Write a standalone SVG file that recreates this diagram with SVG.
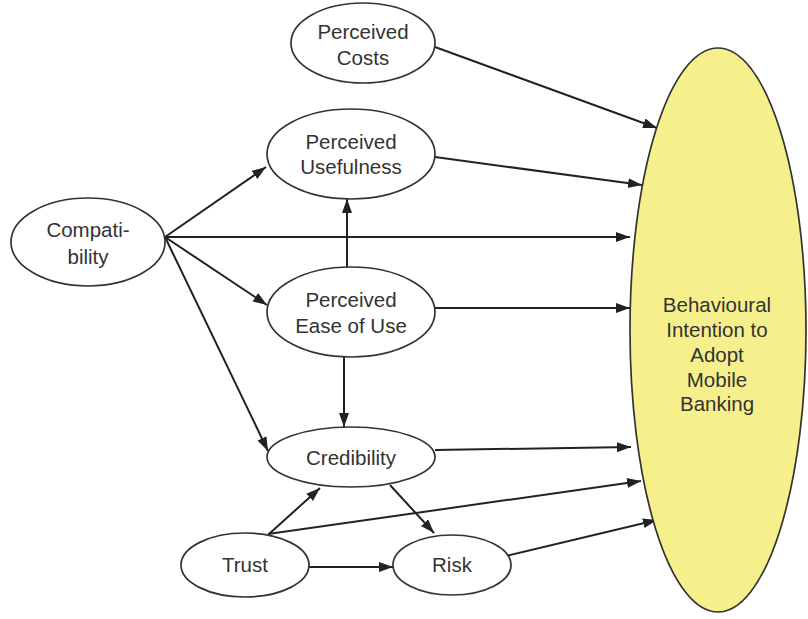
<svg xmlns="http://www.w3.org/2000/svg" width="808" height="619" viewBox="0 0 808 619">
<style>
.n{fill:#fff;stroke:#333;stroke-width:1.7}
.b{fill:#f6f08c;stroke:#333;stroke-width:1.7}
text{font-family:"Liberation Sans",Arial,sans-serif;font-size:20.5px;fill:#333;text-anchor:middle}
.c line{stroke:#222;stroke-width:2;marker-end:url(#ah)}
</style>
<defs>
<marker id="ah" markerUnits="userSpaceOnUse" markerWidth="15" markerHeight="11" refX="14" refY="5" orient="auto">
<path d="M0,0 L14,5 L0,10 z" fill="#222"/>
</marker>
</defs>
<rect width="808" height="619" fill="#fff"/>
<g id="connectors" class="c">
<line x1="435" y1="47" x2="657" y2="128"/>
<line x1="435" y1="157" x2="642" y2="185"/>
<line x1="165" y1="237" x2="630" y2="237"/>
<line x1="435" y1="308" x2="630" y2="308"/>
<line x1="435" y1="450" x2="631" y2="447"/>
<line x1="268" y1="534" x2="641" y2="481"/>
<line x1="506" y1="556" x2="657" y2="520"/>
<line x1="165" y1="237" x2="266" y2="167"/>
<line x1="165" y1="237" x2="267" y2="305"/>
<line x1="165" y1="237" x2="268" y2="451"/>
<line x1="347" y1="268" x2="347" y2="199"/>
<line x1="344" y1="357" x2="344" y2="427"/>
<line x1="269" y1="534" x2="320" y2="488"/>
<line x1="390" y1="485" x2="434" y2="533"/>
<line x1="309" y1="567" x2="393" y2="567"/>
</g>
<g id="perceived-costs">
<ellipse class="n" cx="363" cy="43" rx="72" ry="40"/>
<text x="363" y="39">Perceived</text>
<text x="363" y="65">Costs</text>
</g>
<g id="perceived-usefulness">
<ellipse class="n" cx="351" cy="154" rx="84" ry="45"/>
<text x="351" y="149">Perceived</text>
<text x="351" y="174">Usefulness</text>
</g>
<g id="compatibility">
<ellipse class="n" cx="88" cy="242" rx="77" ry="44"/>
<text x="88" y="237">Compati-</text>
<text x="88" y="264">bility</text>
</g>
<g id="perceived-ease-of-use">
<ellipse class="n" cx="351" cy="312" rx="84" ry="45"/>
<text x="351" y="307">Perceived</text>
<text x="351" y="333">Ease of Use</text>
</g>
<g id="credibility">
<ellipse class="n" cx="351" cy="457" rx="84" ry="30"/>
<text x="351" y="465">Credibility</text>
</g>
<g id="trust">
<ellipse class="n" cx="245" cy="565" rx="64" ry="32"/>
<text x="245" y="572">Trust</text>
</g>
<g id="risk">
<ellipse class="n" cx="452" cy="565" rx="59" ry="30"/>
<text x="452" y="572">Risk</text>
</g>
<g id="behavioural-intention">
<ellipse class="b" cx="718" cy="330" rx="88" ry="282"/>
<text x="717" y="312">Behavioural</text>
<text x="717" y="337">Intention to</text>
<text x="717" y="362">Adopt</text>
<text x="717" y="387">Mobile</text>
<text x="717" y="411">Banking</text>
</g>
</svg>
